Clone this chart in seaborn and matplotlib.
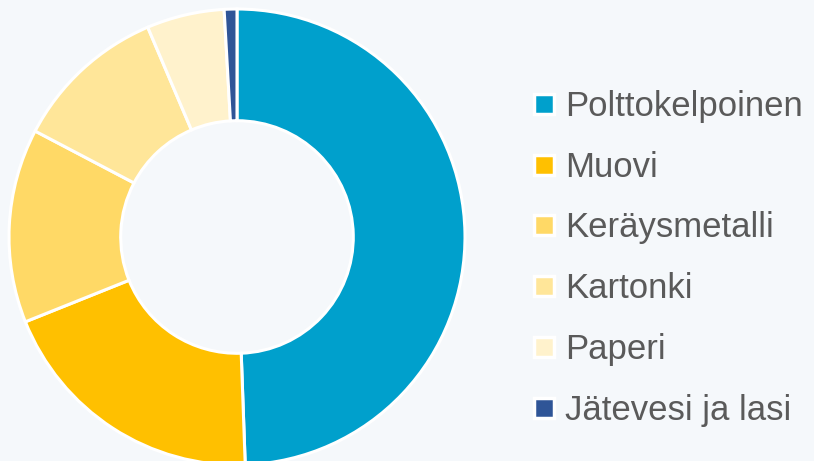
import seaborn as sns
import matplotlib.pyplot as plt
from matplotlib.lines import Line2D

# data (share in %)
labels = ["Polttokelpoinen", "Muovi", "Keräysmetalli", "Kartonki", "Paperi", "Jätevesi ja lasi"]
values = [49.4, 19.5, 13.75, 10.9, 5.5, 0.9]
colors = ["#00A0CC", "#FFC000", "#FFD966", "#FFE699", "#FFF2CC", "#2F5597"]

bg = "#F5F8FB"
sns.set_theme(style="white")
plt.rcParams["font.family"] = ["Liberation Sans", "DejaVu Sans"]

fig = plt.figure(figsize=(8.14, 4.61), dpi=100, facecolor=bg)
ax = fig.add_axes([9 / 814, -4 / 461, 456 / 814, 456 / 461])
ax.set_facecolor(bg)

ax.pie(values, colors=colors, startangle=90, counterclock=False,
       radius=1.0, wedgeprops=dict(width=0.49, edgecolor="white", linewidth=2.2))
ax.set_xlim(-1.0, 1.0)
ax.set_ylim(-1.0, 1.0)
ax.set_aspect("equal")
ax.axis("off")

handles = [Line2D([], [], marker="s", linestyle="none", markersize=14,
                  markerfacecolor=c, markeredgecolor="white", markeredgewidth=2.5)
           for c in colors]
leg = fig.legend(handles, labels, loc="upper left", bbox_to_anchor=(520 / 814, 1 - 76 / 461),
                 frameon=False, fontsize=25, labelspacing=0.8, handlelength=0.6,
                 handletextpad=0.3, borderaxespad=0)
for t in leg.get_texts():
    t.set_color("#5A5A5A")

fig.savefig("out.png", dpi=100, facecolor=bg)
